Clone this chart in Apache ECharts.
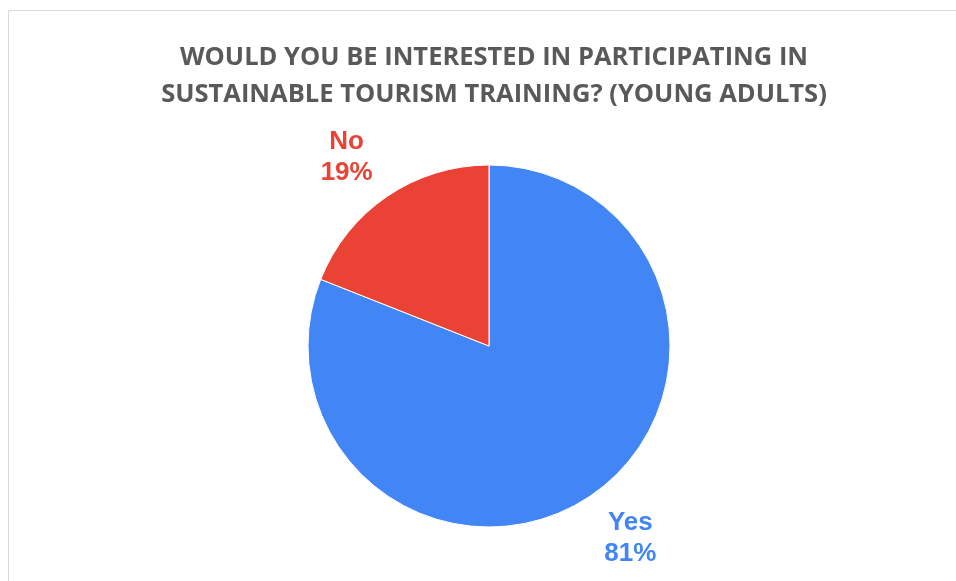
<!DOCTYPE html>
<html>
<head>
<meta charset="utf-8">
<script src="https://cdn.jsdelivr.net/npm/echarts@6/dist/echarts.min.js"></script>
<style>
  html, body { margin: 0; padding: 0; background: #fff; }
  #chart { width: 956px; height: 581px; }
</style>
</head>
<body>
<div id="chart"></div>
<script>
// Survey answers and their shares (percent)
const categories = ['Yes', 'No'];
const shares = [81, 19];
const sliceColors = ['#4285F4', '#EA4335'];

const titleLines = [
  'WOULD YOU BE INTERESTED IN PARTICIPATING IN',
  'SUSTAINABLE TOURISM TRAINING? (YOUNG ADULTS)'
];

// small nudges so each label sits a little off the slice's mid-angle
const labelNudges = [[7, -5], [-8, 9]];

const pieData = categories.map((name, i) => ({
  name,
  value: shares[i],
  itemStyle: { color: sliceColors[i] }
}));

const chart = echarts.init(document.getElementById('chart'));
chart.setOption({
  backgroundColor: '#ffffff',
  animation: false,
  title: {
    text: titleLines.join('\n'),
    left: 489,
    textAlign: 'center',
    top: 34,
    textStyle: {
      fontFamily: '"Open Sans", "Noto Sans", sans-serif',
      fontWeight: 'bold',
      fontSize: 25.5,
      lineHeight: 37,
      color: '#595959'
    }
  },
  graphic: [{
    type: 'rect',
    silent: true,
    shape: { x: 8.5, y: 10.5, width: 1200, height: 1200 },
    style: { fill: 'none', stroke: '#d9d9d9', lineWidth: 1 }
  }],
  series: [
    {
      type: 'pie',
      center: [489, 346],
      radius: [0, 181],
      startAngle: 90,
      clockwise: true,
      silent: true,
      data: pieData,
      itemStyle: { borderColor: '#ffffff', borderWidth: 1 },
      label: { show: false },
      labelLine: { show: false }
    },
    {
      // invisible ring used only to place the category labels
      type: 'pie',
      center: [489, 346],
      radius: [230, 242],
      startAngle: 90,
      clockwise: true,
      silent: true,
      data: pieData.map((d, i) => ({
        name: d.name,
        value: d.value,
        label: { color: sliceColors[i], offset: labelNudges[i] }
      })),
      itemStyle: { color: 'rgba(0,0,0,0)' },
      label: {
        show: true,
        position: 'inside',
        formatter: p => p.name + '\n' + p.value + '%',
        fontFamily: '"Liberation Sans", Arial, sans-serif',
        fontWeight: 'bold',
        fontSize: 26,
        lineHeight: 31
      },
      labelLine: { show: false }
    }
  ]
});
</script>
</body>
</html>
